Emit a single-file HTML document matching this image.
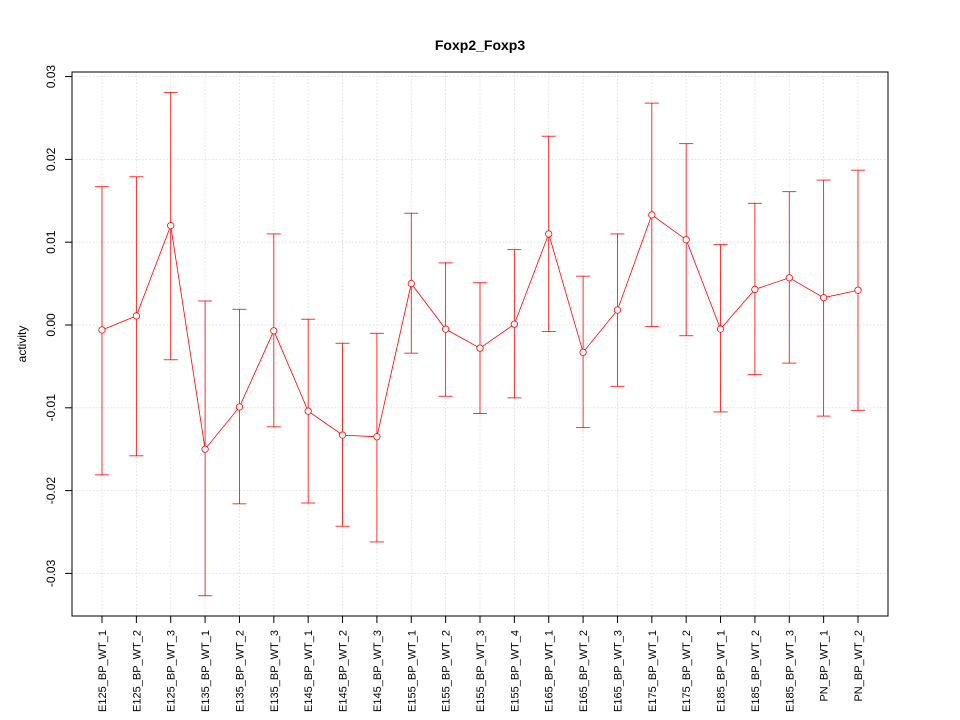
<!DOCTYPE html>
<html><head><meta charset="utf-8"><style>body{margin:0;background:#fff}svg{display:block;font-family:"Liberation Sans",sans-serif}</style></head>
<body>
<svg id="chart" width="960" height="720" xmlns="http://www.w3.org/2000/svg">
<text x="480" y="50" text-anchor="middle" font-size="14" font-weight="bold">Foxp2_Foxp3</text>
<text transform="translate(26,344) rotate(-90)" text-anchor="middle" font-size="12">activity</text>
<g id="grid"></g><g id="axes"></g><g id="series"></g>
<rect x="72" y="72" width="816" height="544" fill="none" stroke="#000" stroke-width="1"/>
</svg>
<script>
const categories=["E125_BP_WT_1","E125_BP_WT_2","E125_BP_WT_3","E135_BP_WT_1","E135_BP_WT_2","E135_BP_WT_3","E145_BP_WT_1","E145_BP_WT_2","E145_BP_WT_3","E155_BP_WT_1","E155_BP_WT_2","E155_BP_WT_3","E155_BP_WT_4","E165_BP_WT_1","E165_BP_WT_2","E165_BP_WT_3","E175_BP_WT_1","E175_BP_WT_2","E185_BP_WT_1","E185_BP_WT_2","E185_BP_WT_3","PN_BP_WT_1","PN_BP_WT_2"];
const means=[-0.0006,0.0011,0.0120,-0.0150,-0.0099,-0.0007,-0.0104,-0.0133,-0.0135,0.0050,-0.0005,-0.0028,0.0001,0.0110,-0.0033,0.0018,0.0133,0.0103,-0.0005,0.0043,0.0057,0.0033,0.0042];
const upper=[0.0167,0.0179,0.0281,0.0029,0.0019,0.0110,0.0007,-0.0022,-0.0010,0.0135,0.0075,0.0051,0.0091,0.0228,0.0059,0.0110,0.0268,0.0219,0.0097,0.0147,0.0161,0.0175,0.0187];
const lower=[-0.0181,-0.0158,-0.0042,-0.0327,-0.0216,-0.0123,-0.0215,-0.0243,-0.0262,-0.0034,-0.0086,-0.0107,-0.0088,-0.0008,-0.0124,-0.0074,-0.0002,-0.0013,-0.0105,-0.0060,-0.0046,-0.0110,-0.0103];
const yTicks=[-0.03,-0.02,-0.01,0.00,0.01,0.02,0.03];
const yTickLabels=["-0.03","-0.02","-0.01","0.00","0.01","0.02","0.03"];
const NS="http://www.w3.org/2000/svg";
function X(i){return 102+i*(858-102)/(categories.length-1);}
function Y(v){return 325-v*8280;}
function mk(p,tag,a){const e=document.createElementNS(NS,tag);for(const k in a)e.setAttribute(k,a[k]);p.appendChild(e);return e;}
const g=document.getElementById('grid'),ax=document.getElementById('axes'),s=document.getElementById('series');
yTicks.forEach((v,i)=>{
 const l=mk(g,'line',{x1:72,x2:888,y1:Y(v),y2:Y(v),stroke:'#d8d8d8','stroke-width':0.8,'stroke-dasharray':'1.5,2'});
 
 
 const t=mk(ax,'line',{x1:65,x2:72,y1:Y(v),y2:Y(v),stroke:'#000'});
 
 
 const tx=mk(ax,'text',{transform:`translate(55,${Y(v)}) rotate(-90)`,'text-anchor':'middle','font-size':12});
 tx.textContent=yTickLabels[i];
 
 
});
categories.forEach((c,i)=>{
 const x=X(i);
 const l=mk(g,'line',{x1:x,x2:x,y1:72,y2:616,stroke:'#d8d8d8','stroke-width':0.8,'stroke-dasharray':'1.5,2'});
 
 
 const t=mk(ax,'line',{x1:x,x2:x,y1:616,y2:623,stroke:'#000'});
 
 
 const tx=mk(ax,'text',{transform:`translate(${x+4},630) rotate(-90)`,'text-anchor':'end','font-size':11});
 tx.textContent=c;
 
 
 const e=mk(s,'g',{stroke:'#f00',fill:'none','stroke-width':0.8});
 
 
 mk(e,'line',{x1:x,x2:x,y1:Y(upper[i]),y2:Y(lower[i])});
 mk(e,'line',{x1:x-7,x2:x+7,y1:Y(upper[i]),y2:Y(upper[i])});
 mk(e,'line',{x1:x-7,x2:x+7,y1:Y(lower[i]),y2:Y(lower[i])});
});
const pl=mk(s,'polyline',{points:means.map((v,i)=>X(i)+','+Y(v)).join(' '),stroke:'#f00',fill:'none','stroke-width':0.8});


means.forEach((v,i)=>{
 const c=mk(s,'circle',{cx:X(i),cy:Y(v),r:3.2,stroke:'#f00',fill:'#fff','stroke-width':0.8});
 
 
});
</script>
</body></html>
